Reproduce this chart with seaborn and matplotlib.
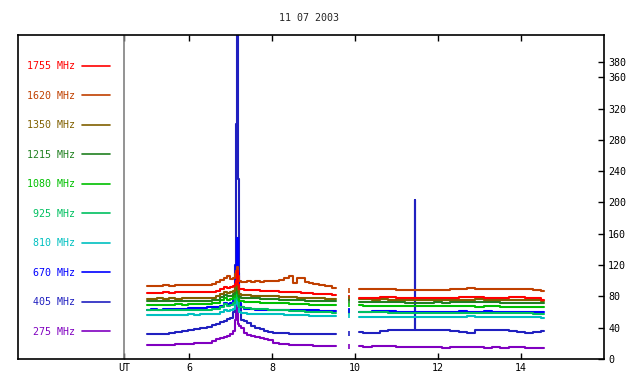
import numpy as np
import pandas as pd
import matplotlib
matplotlib.use('Agg')
import matplotlib.pyplot as plt
from matplotlib.lines import Line2D
import seaborn as sns

sns.set_style('white')
plt.rcParams['font.family'] = ['DejaVu Sans Mono']

labels = ['1755 MHz', '1620 MHz', '1350 MHz', '1215 MHz', '1080 MHz',
          '925 MHz', '810 MHz', '670 MHz', '405 MHz', '275 MHz']
colors = ['#ff0000', '#c04000', '#806000', '#208020', '#00c000',
          '#00c060', '#00c0c0', '#0000ff', '#2020c0', '#8000c0']

# first block of observations (UT hours)
t1 = [5.00, 5.15, 5.30, 5.45, 5.60, 5.75, 5.90, 6.05, 6.20, 6.35, 6.50,
      6.60, 6.70, 6.80, 6.88, 6.95, 7.02, 7.08, 7.12, 7.14, 7.16, 7.18,
      7.22, 7.28, 7.35, 7.45, 7.55, 7.65, 7.75, 7.85, 7.95, 8.10, 8.25,
      8.35, 8.45, 8.55, 8.65, 8.75, 8.85, 8.95, 9.05, 9.20, 9.35, 9.55]
# second block
t2 = [10.10, 10.30, 10.50, 10.70, 10.90, 11.10, 11.30, 11.44, 11.45, 11.46,
      11.60, 11.80, 12.00, 12.20, 12.40, 12.60, 12.80, 13.00, 13.20, 13.40,
      13.60, 13.80, 14.00, 14.20, 14.40, 14.55]
# isolated samples in the gap
t_dot = 9.86

f1755_a = [84, 84.5, 84, 85, 84.5, 85, 85, 85.5, 85, 85.5, 85.5, 86, 87, 90, 92, 91, 92, 93,
           96, 100, 112, 95, 90, 89, 88.5, 88.5, 88, 88, 87.5, 87.5, 87, 86.5, 86, 86, 85.5,
           85, 85, 84.5, 84, 84, 83.5, 83, 82.5, 82]
f1620_a = [93, 93.5, 93, 94, 93.5, 94, 94, 94.5, 94, 95, 95, 96, 98, 101, 104, 106, 102, 104,
           108, 112, 118, 106, 100, 99, 99, 99.5, 99, 99.5, 99, 99.5, 100, 99.5, 101, 104, 106,
           97, 103, 104, 99, 97.5, 95.5, 94.5, 93.5, 91]
f1350_a = [77, 77, 77.5, 77, 77.5, 77, 77.5, 78, 77.5, 78, 78, 78.5, 80, 83, 86, 84, 85, 87,
           92, 96, 100, 88, 83, 82, 81.5, 81.5, 81, 81, 80.5, 80.5, 80, 80, 79.5, 79.5, 79,
           79, 78.5, 78.5, 78, 78, 77.5, 77.5, 77, 77]
f1215_a = [73.5, 73.5, 74, 73.5, 74, 74, 74, 74.5, 74, 74.5, 74.5, 75, 76, 79, 82, 80, 81, 83,
           88, 92, 96, 84, 79, 78.5, 78, 78, 77.5, 77.5, 77, 77, 76.5, 76.5, 76, 76, 75.5,
           75.5, 75, 75, 74.5, 74.5, 74, 74, 73.5, 73.5]
f1080_a = [69, 69.5, 69, 69.5, 69.5, 70, 69.5, 70, 70, 70.5, 70.5, 71, 72, 75, 78, 76, 77, 79,
           84, 88, 92, 80, 74, 73.5, 73, 73, 72.5, 72.5, 72, 72, 71.5, 71.5, 71, 71, 70.5,
           70.5, 70.5, 70, 70, 69.5, 69.5, 69, 69, 68.5]
f925_a = [62, 62, 62.5, 62, 62.5, 62.5, 62.5, 63, 62.5, 63, 63, 63.5, 64, 67, 70, 68, 69, 71,
          78, 85, 90, 76, 67, 66, 65.5, 65, 64.5, 64, 63.5, 63.5, 63, 62.5, 62, 62, 61.5,
          61.5, 61, 61, 60.5, 60.5, 60, 60, 59.5, 59]
f810_a = [56, 56, 56.5, 56, 56.5, 56.5, 56.5, 57, 56.5, 57, 57, 57.5, 58, 60, 63, 61, 62, 64,
          70, 76, 80, 68, 60, 59, 58.5, 58, 58, 57.5, 57.5, 57.5, 57, 57, 57, 56.5, 56.5,
          56.5, 56, 56, 56, 55.5, 55.5, 55.5, 55, 55]
f670_a = [63, 63.5, 63, 64, 63.5, 64, 64.5, 65, 65, 65.5, 66, 66, 66.5, 68, 71, 70, 72, 75,
          90, 120, 155, 110, 72, 66, 64, 63.5, 63.5, 63, 63, 63, 62.5, 62.5, 62.5, 62, 62.5,
          62, 62, 62.5, 62, 62, 62, 61.5, 61.5, 61.5]
f405_a = [31.5, 32, 31.5, 32.5, 33, 34, 35.5, 37, 38, 39.5, 41, 43, 45, 47, 49, 51, 53, 60,
          120, 300, 500, 230, 70, 50, 48, 46, 42, 40, 38, 36, 34, 33.5, 33, 33, 32.5, 32.5,
          32.5, 32, 32, 32, 32, 32, 32, 32]
f275_a = [18, 18, 18.5, 18, 18.5, 19, 19, 19.5, 20, 20.5, 21, 23, 25, 27, 28, 29, 32, 36,
          50, 75, 60, 45, 42, 40, 33, 31, 29, 28, 27, 25.5, 24, 21, 19.5, 19, 18.5, 18, 18,
          17.5, 17.5, 17.5, 17, 17, 17, 17]

f1755_b = [78, 78, 78.5, 79.5, 79, 78, 78, 78, 78, 78, 77.5, 78, 78.5, 78, 78.5, 79, 79.5,
           79, 78.5, 78.5, 78.5, 79, 79, 78.5, 77.5, 76]
f1620_b = [89.5, 89.5, 89, 90, 89, 88.5, 88.5, 88.5, 88.5, 88.5, 88, 88.5, 88, 88.5, 89,
           89.5, 90.5, 90, 89.5, 89, 89.5, 90, 90, 89.5, 88.5, 87]
f1350_b = [76.5, 76.5, 76, 76.5, 76, 76, 75.5, 75.5, 75.5, 75.5, 75.5, 75.5, 75.5, 75.5, 76,
           76, 76, 76.5, 76, 76, 76, 76, 76, 75.5, 75, 74]
f1215_b = [73, 73, 72.5, 73, 72.5, 72.5, 72, 72, 72, 72, 72, 72, 72.5, 72, 72.5, 72.5, 72.5,
           73, 72.5, 72.5, 72, 72, 72, 72, 71.5, 71]
f1080_b = [68.5, 68, 68, 68, 68, 68, 68, 68, 68, 68, 68, 68, 68, 68, 67.5, 67.5, 67.5, 67,
           67.5, 67.5, 67, 67, 66.5, 66.5, 66, 66]
f925_b = [59.5, 59.5, 59.5, 59.5, 59, 59, 59, 59, 59, 59, 59, 59, 59, 59, 59, 59, 59, 59, 59,
          59, 58.5, 58.5, 58.5, 58.5, 58, 58]
f810_b = [54, 54, 54, 54, 54, 54, 54, 54, 54, 54, 54, 54, 54, 54, 54, 54, 54.5, 54, 54, 54,
          54, 53.5, 53.5, 53.5, 53.5, 53]
f670_b = [60.5, 60.5, 61, 61, 61, 60.5, 60.5, 60.5, 60.5, 60.5, 60.5, 60.5, 60.5, 60.5,
          60.5, 61, 60.5, 60.5, 61, 60.5, 60.5, 60.5, 60.5, 60, 60, 60]
f405_b = [34.5, 33, 33, 36, 37, 36.5, 36.5, 37, 203, 37, 37, 37.5, 37, 36.5, 36, 34.5, 33,
          37, 36.5, 37, 37, 35.5, 34, 33.5, 35, 36]
f275_b = [16, 15.5, 16, 16, 16, 15.5, 15.5, 15.5, 15.5, 15.5, 15, 15, 15, 14.5, 15, 15, 15,
          15.5, 14.5, 15, 14.5, 15, 15, 14.5, 14.5, 14.5]

dots = [79, 88, 77, 74, 69, 61, 55, 62, 33, 16]

seg_a = [f1755_a, f1620_a, f1350_a, f1215_a, f1080_a, f925_a, f810_a, f670_a, f405_a, f275_a]
seg_b = [f1755_b, f1620_b, f1350_b, f1215_b, f1080_b, f925_b, f810_b, f670_b, f405_b, f275_b]

rows = []
for lab, va, vb in zip(labels, seg_a, seg_b):
    rows.append(pd.DataFrame({'t': t1, 'v': va, 'freq': lab, 'seg': 0}))
    rows.append(pd.DataFrame({'t': t2, 'v': vb, 'freq': lab, 'seg': 1}))
df = pd.concat(rows, ignore_index=True)
df_dot = pd.DataFrame({'t': t_dot, 'v': dots, 'freq': labels})

pal = dict(zip(labels, colors))

fig = plt.figure(figsize=(6.4, 3.84), dpi=100)
ax = fig.add_axes([18 / 640, 25 / 384, 586 / 640, 324 / 384])

ut = 4.43
ax.axvline(ut, color='#808080', lw=1.2, zorder=1)

# draw low frequencies first so the high ones sit on top
for lab in labels[::-1]:
    sns.lineplot(data=df[df.freq == lab], x='t', y='v', units='seg', estimator=None,
                 color=pal[lab], lw=1.5, drawstyle='steps-mid', ax=ax, legend=False)
sns.scatterplot(data=df_dot, x='t', y='v', hue='freq', palette=pal, marker='|',
                s=12, linewidth=1.2, ax=ax, legend=False)

ax.set_xlim(1.88, 16.0)
ax.set_ylim(0, 414)
ax.set_xlabel('')
ax.set_ylabel('')

ax.set_xticks([ut, 6, 8, 10, 12, 14])
ax.set_xticklabels(['UT', '6', '8', '10', '12', '14'])
ax.yaxis.tick_right()
ax.set_yticks([0, 40, 80, 120, 160, 200, 240, 280, 320, 360, 380])
ax.tick_params(axis='both', direction='in', length=4, width=1, labelsize=7.2,
               colors='black', pad=3)
ax.tick_params(axis='x', top=True, bottom=True)
ax.tick_params(axis='y', left=False, right=True, pad=3)
for s in ax.spines.values():
    s.set_color('black')
    s.set_linewidth(1.2)

handles = [Line2D([], [], color=c, lw=1.2) for c in colors]
leg = ax.legend(handles, labels, loc='center left', bbox_to_anchor=(0.015, 0.494),
                frameon=False, markerfirst=False, fontsize=7.2, labelspacing=1.95,
                handlelength=2.8, handletextpad=0.7, borderpad=0, borderaxespad=0)
for txt, c in zip(leg.get_texts(), colors):
    txt.set_color(c)

fig.text(309 / 640, 1 - 18 / 384, '11 07 2003', ha='center', va='center', fontsize=7.2)

fig.savefig('out.png', dpi=100, facecolor='white')
